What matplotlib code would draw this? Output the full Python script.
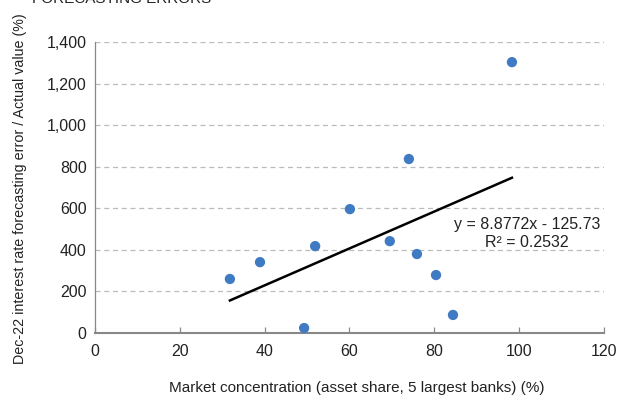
import matplotlib
matplotlib.use("Agg")
import matplotlib.pyplot as plt
import numpy as np

plt.rcParams['font.family'] = ['Liberation Sans', 'DejaVu Sans']

concentration = [31.8, 38.9, 49.3, 51.9, 60.1, 69.5, 74.0, 75.9, 80.4, 84.4, 98.3]
forecast_error = [260, 341, 24, 418, 596, 442, 837, 380, 279, 87, 1303]
slope = 8.8772
intercept = -125.73
r_squared = 0.2532
x_ticks = [0, 20, 40, 60, 80, 100, 120]
y_ticks = [0, 200, 400, 600, 800, 1000, 1200, 1400]

fig = plt.figure(figsize=(6.21, 3.96), dpi=100)
ax = fig.add_axes([0.153, 0.159, 0.8196, 0.735])

ax.set_xlim(0, 120)
ax.set_ylim(0, 1400)
ax.set_xticks(x_ticks)
ax.set_yticks(y_ticks)
ax.set_yticklabels([f"{v:,}" for v in y_ticks])

ax.grid(axis='y', linestyle=(0, (4, 3)), color='#bbbbbb', linewidth=0.9)
ax.set_axisbelow(True)

for s in ['top', 'right']:
    ax.spines[s].set_visible(False)
ax.spines['left'].set_color('#888888')
ax.spines['left'].set_linewidth(0.9)
ax.spines['bottom'].set_color('#888888')
ax.spines['bottom'].set_linewidth(1.5)

ax.tick_params(axis='x', direction='in', length=4, color='#888888', width=0.9,
               labelsize=11.5, pad=8, labelcolor='#222222')
ax.tick_params(axis='y', length=0, labelsize=11.5, pad=6, labelcolor='#222222')

ax.scatter(concentration, forecast_error, s=55, color='#3f7bc2', zorder=3,
           edgecolors='none', clip_on=False)

xs = np.array([min(concentration), max(concentration)])
ax.plot(xs, slope * xs + intercept, color='black', linewidth=1.8, zorder=4)

ax.text(101.8, 479, f"y = {slope}x - {abs(intercept)}\nR² = {r_squared}",
        ha='center', va='center', multialignment='center', fontsize=11.5,
        color='#222222', linespacing=1.25)

fig.text(0.575, 0.003, "Market concentration (asset share, 5 largest banks) (%)",
         ha='center', va='bottom', fontsize=11, color='#222222')
fig.text(0.032, 0.523, "Dec-22 interest rate forecasting error / Actual value (%)",
         rotation=90, ha='center', va='center', fontsize=10.3, color='#222222')

fig.text(0.052, 0.992, "FORECASTING ERRORS", ha='left', va='baseline',
         fontsize=11, color='#222222')

fig.savefig("out.png", dpi=100)
